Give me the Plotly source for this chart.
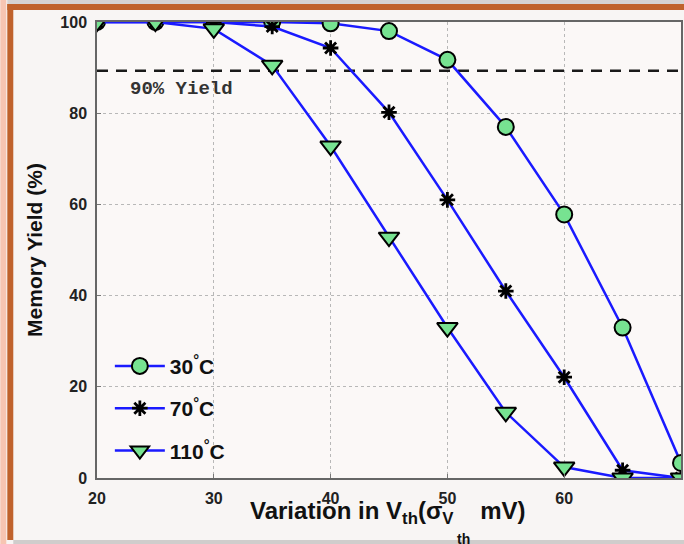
import plotly.graph_objects as go

variation = [20, 25, 30, 35, 40, 45, 50, 55, 60, 65, 70]
yield_30 = [100, 100, 100, 100, 99.7, 98, 91.7, 77, 57.8, 33, 3.3]
yield_70 = [100, 100, 100, 99, 94.3, 80.2, 61, 41, 22.1, 1.7, 0]
yield_110 = [100, 100, 98.5, 90.5, 72.8, 52.8, 33, 14.4, 2.4, 0, 0]
target_x = [20, 70]
target_y = [89.3, 89.3]
x_ticks = [20, 30, 40, 50, 60, 70]
y_ticks = [0, 20, 40, 60, 80, 100]

BLUE = "#1a1aff"
GREEN = "#77e391"

fig = go.Figure()

fig.add_trace(go.Scatter(
    x=target_x, y=target_y, mode="lines", showlegend=False,
    line=dict(color="#1a1a1a", width=2.5, dash="11px,8px"), hoverinfo="skip"))

fig.add_trace(go.Scatter(
    x=variation, y=yield_30, mode="lines+markers", name="<b>30<sup>°</sup>C</b>",
    line=dict(color=BLUE, width=2.5),
    marker=dict(symbol="circle", size=16, color=GREEN, line=dict(color="black", width=2)),
    legendgroup="a"))
fig.add_trace(go.Scatter(
    x=variation, y=yield_70, mode="lines+markers", name="<b>70<sup>°</sup>C</b>",
    line=dict(color=BLUE, width=2.5),
    marker=dict(symbol="asterisk-open", size=13, color="black", line=dict(color="black", width=2.8)),
    legendgroup="b"))
fig.add_trace(go.Scatter(
    x=variation, y=yield_110, mode="lines+markers", name="<b>110<sup>°</sup>C</b>",
    line=dict(color=BLUE, width=2.5),
    marker=dict(symbol="triangle-down", size=18, color=GREEN, line=dict(color="black", width=2)),
    legendgroup="c"))

fig.add_annotation(x=27.25, y=85.3, xref="x", yref="y", text="<b>90% Yield</b>",
                   showarrow=False, font=dict(family="Liberation Mono", size=19, color="#333"))

# x axis title (overlapping tick labels as in the original)
fig.add_annotation(x=(249 - 97) / 586, y=-0.038, xref="paper", yref="paper", xanchor="left", yanchor="top",
                   text="<b>Variation in V<sub>th</sub>(σ<sub>V</sub>    mV)</b>",
                   showarrow=False, font=dict(family="Liberation Sans", size=24, color="#111"))
fig.add_annotation(x=(465 - 97) / 586, y=-0.112, xref="paper", yref="paper", xanchor="center", yanchor="top",
                   text="<b>th</b>", showarrow=False,
                   font=dict(family="Liberation Sans", size=14, color="#111"))

shapes = [
    dict(type="rect", xref="paper", yref="paper", x0=-97/586, x1=-91/586, y0=-66/456, y1=1 + 22/456,
         fillcolor="#f7c5b2", line_width=0, layer="below"),
    dict(type="rect", xref="paper", yref="paper", x0=-90/586, x1=-84/586, y0=-62/456, y1=1 + 18/456,
         fillcolor="#c0622c", line_width=0, layer="below"),
    dict(type="rect", xref="paper", yref="paper", x0=-90/586, x1=1.1, y0=1 + 12/456, y1=1 + 18/456,
         fillcolor="#c0622c", line_width=0, layer="below"),
    dict(type="rect", xref="paper", yref="paper", x0=-90/586, x1=1.1, y0=1 + 18/456, y1=1 + 22/456,
         fillcolor="#d6d3d2", line_width=0, layer="below"),
    dict(type="rect", xref="paper", yref="paper", x0=-84/586, x1=1.1, y0=-66/456, y1=-62/456,
         fillcolor="#d0cdcc", line_width=0, layer="below"),
]
fig.update_layout(shapes=shapes)

tick_font = dict(family="Liberation Sans", size=16, color="#222", weight="bold")
fig.update_xaxes(range=[20, 70], tickvals=x_ticks, ticks="inside", ticklen=4, tickcolor="#777",
                 showgrid=True, gridcolor="#b8b8b8", griddash="dot", gridwidth=1,
                 showline=True, linecolor="#666", linewidth=1.5, mirror=True, zeroline=False,
                 tickfont=tick_font, ticklabelstandoff=5)
fig.update_yaxes(range=[0, 100], tickvals=y_ticks, ticks="inside", ticklen=4, tickcolor="#777",
                 showgrid=True, gridcolor="#b8b8b8", griddash="dot", gridwidth=1,
                 showline=True, linecolor="#666", linewidth=1.5, mirror=True, zeroline=False,
                 tickfont=tick_font, ticklabelstandoff=5,
                 title=dict(text="<b>Memory Yield (%)</b>", standoff=12,
                            font=dict(family="Liberation Sans", size=21, color="#111")))

fig.update_layout(
    width=684, height=544,
    margin=dict(l=97, r=1, t=22, b=66),
    paper_bgcolor="#f8f5f4", plot_bgcolor="#fbf8f7",
    legend=dict(x=0.022, y=0.29, xanchor="left", yanchor="top", bgcolor="rgba(0,0,0,0)",
                font=dict(family="Liberation Sans", size=21, color="#111"),
                tracegroupgap=12, itemwidth=50),
    showlegend=True,
)

fig.write_html("out.html")
